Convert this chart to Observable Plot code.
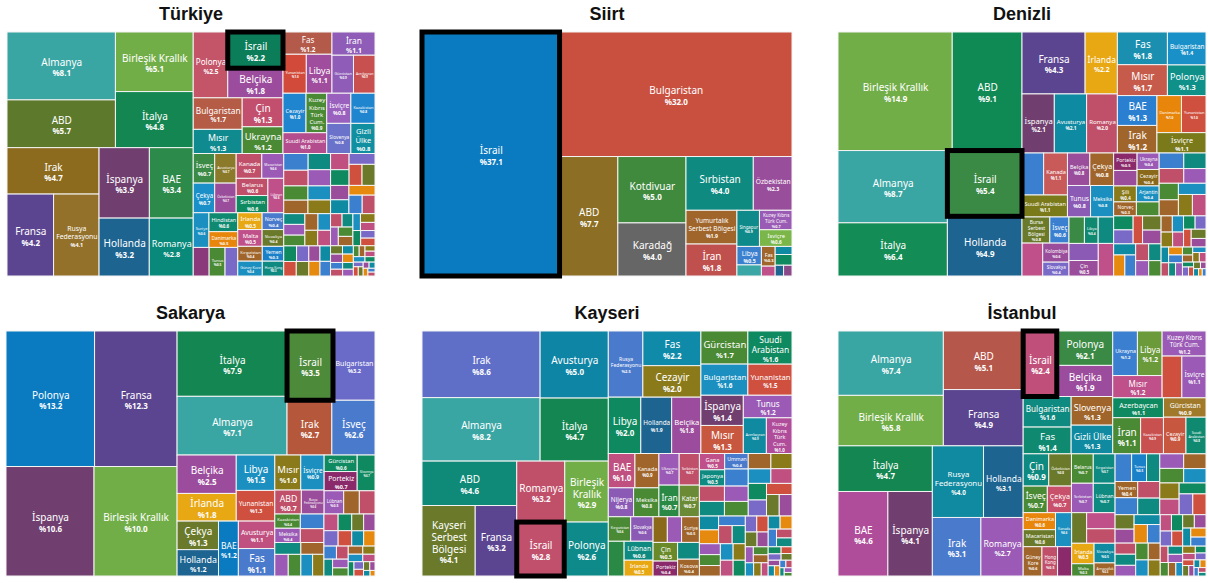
<!DOCTYPE html>
<html><head><meta charset="utf-8">
<script src="https://cdn.jsdelivr.net/npm/d3@7"></script>
<script src="https://cdn.jsdelivr.net/npm/@observablehq/plot@0.6"></script>
<style>
body{margin:0;background:#fff;width:1208px;height:583px;position:relative;overflow:hidden;font-family:"Noto Sans",sans-serif}
.panel{position:absolute}
.title{position:absolute;text-align:center;font:bold 18px "Liberation Sans",Arial,sans-serif;color:#111;line-height:22px}
</style></head><body>
<script>
// ---------------- DATA ----------------
const turkiyeNames = ["Almanya","ABD","Birleşik Krallık","İtalya","Irak","Fransa","Rusya Federasyonu","İspanya","BAE","Hollanda","Romanya","Polonya","İsrail","Belçika","Bulgaristan","Mısır","Çin","Ukrayna","Fas","Yunanistan","Libya","İran","Gürcistan","Azerbaycan","Cezayir","Kuzey Kıbrıs Türk Cum.","Suudi Arabistan","İsviçre","Kazakistan","Slovenya","Gizli Ülke","İsveç","Avusturya","Çekya","Özbekistan","Kanada","Macaristan","Belarus","Sırbistan","Lübnan","Suriye","Hindistan","Danimarka","","Tunus","","İrlanda","Malta","Norveç","Slovakya","Kırgızistan","Güney Kore","Yemen","Hong Kong"];
const turkiyeValues = [8.1,5.7,5.1,4.8,4.7,4.2,4.1,3.9,3.4,3.2,2.8,2.5,2.2,1.8,1.7,1.3,1.3,1.2,1.2,1.0,1.1,1.1,0.9,0.9,1.0,0.9,1.0,0.8,0.8,0.8,0.8,0.7,0.7,0.7,0.7,0.7,0.6,0.6,0.6,0.6,0.6,0.6,0.5,0.5,0.5,0.4,0.45,0.45,0.4,0.4,0.4,0.4,0.35,0.35];
const turkiyeColors = ["#3aa6a4","#5d7a2c","#72ae48","#138651","#8c6b1e","#5c4590","#94712a","#703f6f","#2c8a4b","#1e6491","#08897a","#c45468","#0b7d58","#9c4c9c","#b45c45","#0f8a8f","#c24f6e","#4b8a35","#b45a4a","#d24a3a","#a04d9e","#8f5db7","#8f5db7","#c8504f","#1f85cf","#4b8a35","#b34d8e","#9960bd","#1f85cf","#6a72c9","#0f8fa0","#3b8a45","#8a7a2a","#1a8fc8","#9a4d9a","#c0506a","#9a5ab5","#c0506a","#0f8a60","#c0508a","#1a8fc0","#0f8a70","#e8860c","#8a3a7a","#4a8a35","#7a6ac8","#e8a813","#c0508a","#4a7acc","#6a7a2a","#a0652a","#1a8fc0","#1a80c8","#0f8a80"];
const turkiyeTiny = [0.45,0.42,0.4,0.4,0.38,0.36,0.35,0.34,0.33,0.32,0.31,0.3,0.3,0.29,0.28,0.28,0.27,0.26,0.25,0.25,0.25,0.24,0.23,0.22,0.22,0.22,0.21,0.2,0.2,0.19,0.18,0.18,0.17,0.17,0.16,0.16,0.15,0.15,0.14,0.14,0.13,0.13,0.12,0.12,0.11,0.11,0.1,0.1,0.09,0.09,0.08,0.08,0.07,0.07,0.07,0.06,0.06,0.06,0.05,0.05,0.05,0.04,0.04,0.04,0.03,0.03];

const siirtNames = ["İsrail","Bulgaristan","ABD","Kotdivuar","Karadağ","Sırbistan","Özbekistan","Yumurtalık Serbest Bölgesi","İran","Singapur","Kuzey Kıbrıs Türk Cum.","İsviçre","Libya","","Fas","","","","",""];
const siirtValues = [37.1,32.0,7.7,5.0,4.0,4.0,2.3,1.9,1.8,0.9,0.7,0.6,0.5,0.3,0.3,0.15,0.15,0.2,0.1,0.1];
const siirtColors = ["#0a7bc1","#c9503f","#8c6f24","#3f8a3c","#666666","#0f8a80","#984e9a","#a0652a","#c0504d","#0f8a8a","#9a5bb5","#7ab648","#3b80cf","#3aa6a5","#a0652a","#c0508a","#0f8aa3","#0f8a60","#1f6591","#8a4a8a"];
const siirtTiny = [];

const denizliNames = ["Birleşik Krallık","ABD","Almanya","İtalya","İsrail","Hollanda","Fransa","İrlanda","İspanya","Avusturya","Romanya","Fas","Mısır","Bulgaristan","Polonya","BAE","Irak","Danimarka","Yunanistan","İsviçre","Rusya Federasyonu","Kanada","Suudi Arabistan","Belçika","Çekya","Tunus","Meksika","Bursa Serbest Bölgesi","İsveç","","Kolombiya","Slovakya","","Libya","","","Çin","","Portekiz","","Ukrayna","Cezayir","Şili","Norveç","Arjantin",""];
const denizliValues = [14.9,9.1,8.7,6.4,5.4,4.9,4.3,2.2,2.1,2.1,2.0,1.8,1.7,1.4,1.3,1.3,1.2,1.0,1.0,1.1,1.0,1.1,1.1,0.8,0.85,0.8,0.8,0.8,0.55,0.75,0.55,0.4,0.45,0.4,0.45,0.55,0.5,0.55,0.45,0.4,0.4,0.4,0.4,0.35,0.4,0.35];
const denizliColors = ["#72ae48","#0f8a55","#3aa6a4","#148c55","#3a8a45","#1e6491","#5c4590","#e8a813","#703f6f","#0f8aa3","#c0506a","#1a8fb0","#c65b4b","#1a90c8","#0f9088","#2a7fd0","#a0652a","#e8860c","#d0503f","#7a7a1a","#3b7fd0","#c85a5a","#7a7a1a","#9a4d9a","#a0652a","#8a5ab5","#1a8fc0","#6a7a2a","#3b7fd0","#c0508a","#9a4d9a","#7a6ac8","#3a8a45","#0f8a70","#0f8a80","#8a5ab5","#9a4d9a","#c0508a","#8a2a6a","#9a4d9a","#9a5ab5","#8a6a1a","#8a7a1a","#a0652a","#1a8fc0","#4a8a35"];
const denizliTiny = [0.42,0.4,0.38,0.36,0.35,0.34,0.34,0.33,0.32,0.3,0.3,0.29,0.29,0.28,0.27,0.26,0.25,0.24,0.23,0.22,0.21,0.2,0.2,0.19,0.18,0.17,0.16,0.15,0.15,0.14,0.13,0.12,0.12,0.11,0.1,0.1,0.09,0.08,0.08,0.07,0.07,0.06,0.06,0.05,0.05,0.04,0.04,0.03,0.03];

const sakaryaNames = ["Polonya","Fransa","İspanya","Birleşik Krallık","İtalya","Almanya","İsrail","Bulgaristan","Irak","İsveç","Belçika","İrlanda","Libya","Yunanistan","Çekya","Hollanda","BAE","Avusturya","Fas","Mısır","İsviçre","ABD","Rusya Federasyonu","Gürcistan","Portekiz","Slovenya","Lübnan","","","Kazakistan","Meksika"];
const sakaryaValues = [13.2,12.3,10.6,10.0,7.9,7.1,3.5,3.2,2.7,2.6,2.5,1.8,1.5,1.3,1.3,1.2,1.2,1.1,1.1,1.0,0.9,0.7,0.6,0.6,0.7,0.7,0.5,0.4,0.4,0.4,0.4];
const sakaryaColors = ["#0a7bc1","#5c4590","#703f6f","#72ae48","#138651","#3aa6a4","#4d8a3a","#6a6ac8","#b5573a","#4a7acc","#9c4c9c","#e8a813","#1a8fc0","#d0503f","#6a7a2a","#1e6491","#0a7bc1","#c05080","#4a7acc","#8a7a1a","#1a8fc0","#c0506a","#9a4d9a","#0f8a60","#8a2a6a","#0f8a60","#9a5ab5","#a0652a","#c0506a","#4a8a35","#9a5ab5"];
const sakaryaTiny = [0.38,0.36,0.34,0.32,0.3,0.3,0.28,0.27,0.26,0.25,0.24,0.23,0.22,0.21,0.2,0.19,0.18,0.17,0.16,0.15,0.14,0.13,0.12,0.11,0.1,0.09,0.08,0.07,0.06,0.05,0.04,0.03];

const kayseriNames = ["Irak","Almanya","Avusturya","İtalya","ABD","Kayseri Serbest Bölgesi","Fransa","Romanya","Birleşik Krallık","İsrail","Polonya","Rusya Federasyonu","Fas","Cezayir","Libya","Hollanda","Belçika","Gürcistan","Bulgaristan","Suudi Arabistan","Yunanistan","İspanya","Mısır","Tunus","Azerbaycan","Kuzey Kıbrıs Türk Cum.","BAE","Kanada","Nijerya","Meksika","Ukrayna","Sırbistan","İran","Katar","Kırgızistan","Slovakya","","Lübnan","İrlanda","","","Suriye","Çin","Portekiz","","Kosova","Gana","Japonya","Umman"];
const kayseriValues = [8.6,8.2,5.0,4.7,4.6,4.1,3.2,3.2,2.9,2.8,2.6,2.5,2.2,2.0,2.0,1.9,1.8,1.7,1.6,1.6,1.5,1.4,1.3,1.2,0.9,1.0,1.0,0.9,0.8,0.8,0.7,0.7,0.7,0.7,0.6,0.6,0.6,0.6,0.5,0.4,0.4,0.5,0.5,0.4,0.4,0.4,0.45,0.45,0.4];
const kayseriColors = ["#5f6fc8","#3aa6a4","#0f85a5","#138651","#0f8a78","#6a7a2a","#5c4590","#c0506a","#72ae48","#c0506c","#0f8a8a","#4a7acc","#0f8aa8","#8a7a1a","#0f8a60","#1e6491","#9c4c9c","#4a8a35","#1a8fc0","#0f8a60","#d0503f","#703f6f","#c8573f","#9a5ab5","#0f8aa0","#b04d9a","#c05080","#a0652a","#8a5ab5","#4a8a35","#9a5ab5","#c0506a","#2a8a45","#6a8a35","#4a8a35","#8a5ab5","#2a8a45","#0f8a80","#e8a813","#8a6a1a","#9a5ab5","#a0652a","#6a8a2a","#8a2a6a","#0f8a80","#a0652a","#c0508a","#0f8a80","#4a7acc"];
const kayseriTiny = [0.44,0.42,0.4,0.4,0.38,0.38,0.36,0.35,0.34,0.33,0.32,0.31,0.3,0.3,0.29,0.29,0.28,0.27,0.26,0.25,0.25,0.24,0.23,0.22,0.22,0.21,0.2,0.2,0.19,0.18,0.17,0.17,0.16,0.15,0.15,0.14,0.13,0.13,0.12,0.11,0.1,0.1,0.09,0.08,0.08,0.07,0.07,0.06,0.05,0.05,0.04,0.04,0.03];

const istanbulNames = ["Almanya","Birleşik Krallık","ABD","Fransa","İtalya","BAE","İspanya","Rusya Federasyonu","Hollanda","Irak","Romanya","İsrail","Polonya","Belçika","Bulgaristan","Fas","Slovenya","Gizli Ülke","Ukrayna","Libya","Mısır","Kuzey Kıbrıs Türk Cum.","","İsviçre","Azerbaycan","İran","Kazakistan","Gürcistan","Cezayir","Suudi Arabistan","Çin","Özbekistan","İsveç","Çekya","Belarus","Kırgızistan","Sırbistan","Lübnan","Danimarka","Macaristan","Kanada","Güney Kore","Hong Kong","Portekiz","","","","İrlanda","Malta","Slovakya","Arnavutluk","Türkmenistan","Tunus","Brezilya","Yemen"];
const istanbulValues = [7.4,5.8,5.1,4.9,4.7,4.6,4.1,4.0,3.1,3.1,2.7,2.4,2.1,1.9,1.6,1.4,1.3,1.3,1.2,1.2,1.2,1.2,0.9,1.1,1.1,1.1,0.9,0.9,0.9,0.8,0.9,0.8,0.7,0.7,0.7,0.7,0.7,0.7,0.6,0.6,0.6,0.6,0.5,0.45,0.5,0.5,0.45,0.5,0.3,0.45,0.3,0.5,0.45,0.4,0.4];
const istanbulColors = ["#3aa6a4","#72ae48","#b5574a","#5c4590","#138651","#b04d9a","#703f6f","#0f8aa0","#1e6491","#4a7acc","#9a5ab5","#c0507a","#3a8a45","#9c4c9c","#0f8a80","#0f8a70","#a0652a","#0f8aa0","#3b7fd0","#6a9a3a","#c0508a","#9a5ab5","#d0503f","#9a5ab5","#0f8a60","#4a8a35","#c8504f","#a07a2a","#c8573f","#0f8a70","#0f8a80","#6a7a2a","#4a8a35","#c8506a","#4a8a35","#0f8a80","#9a5ab5","#0f8a80","#e8860c","#6a7a2a","#1a8fc0","#a0652a","#c0506a","#8a2a6a","#6a7a2a","#c0508a","#c0506a","#e8a813","#4a8a35","#0f8aa0","#a0652a","#3b80cf","#1a80c8","#0f8a80","#a0652a"];
const istanbulTiny = [0.42,0.4,0.4,0.38,0.38,0.36,0.35,0.34,0.33,0.32,0.31,0.3,0.3,0.29,0.28,0.27,0.26,0.25,0.25,0.24,0.23,0.22,0.22,0.21,0.2,0.2,0.19,0.18,0.17,0.17,0.16,0.15,0.15,0.14,0.13,0.13,0.12,0.11,0.1,0.1,0.09,0.08,0.08,0.07,0.07,0.06,0.05,0.05,0.04,0.04,0.03];

const tinyPalette = ["#3b80cf","#c0506a","#0f8a80","#9a5ab5","#4a8a35","#a0652a","#1a8fc0","#8a7a1a","#c05080","#0f8a60","#7a6ac8","#d0503f","#6a7a2a","#9a4d9a","#0f8aa3","#e68a0f"];

// ---------------- RENDER ----------------
const FONT = '"Noto Sans", "Open Sans", sans-serif';
const ctx = document.createElement("canvas").getContext("2d");
function textWidth(s, size, bold){ ctx.font = (bold ? "bold " : "") + size + "px " + FONT; return ctx.measureText(s).width; }
function lineOptions(name){
  const words = name.split(" ");
  const opts = [[name]];
  for (let i = 1; i < words.length; i++) opts.push([words.slice(0,i).join(" "), words.slice(i).join(" ")]);
  if (words.length > 2) for (let i = 1; i < words.length - 1; i++) for (let j = i + 1; j < words.length; j++)
    opts.push([words.slice(0,i).join(" "), words.slice(i,j).join(" "), words.slice(j).join(" ")]);
  if (words.length > 3) opts.push(words);
  return opts;
}
const VR = 0.8, LH = 1.2, MAXF = 10, GAP = 1.34;
function makeLabel(c){
  const w = c.x1 - c.x0, h = c.y1 - c.y0;
  const val = "%" + c.value.toFixed(1);
  let best = null;
  for (const lines of lineOptions(c.name)) {
    const n = lines.length;
    const nw = Math.max(...lines.map(l => textWidth(l, 10, false))) / 10;
    const vw = textWidth(val, 10, true) / 10 * VR;
    const fsW = (w - 4) / Math.max(nw, vw);
    // full text box height: 0.36 above first cap top, value box bottom
    const fsH = (h - 2) / (0.36 + (n - 1) * LH + GAP + VR * 1.02);
    const fs = Math.min(MAXF, fsW, fsH);
    if (!best || fs > best.fs * 1.15) best = {lines, fs};
  }
  if (best.fs < 3) return null;
  const fs = best.fs, vfs = fs * VR, n = best.lines.length;
  const off = (n - 1) * fs * LH + GAP * fs;
  const glyphH = off + vfs * 0.72;
  const top = (c.y0 + c.y1) / 2 - glyphH / 2 + 0.05 * fs;
  return {cx: (c.x0 + c.x1) / 2, ny: top, vy: top + off, label: best.lines.join("\n"), val, fs, vfs};
}
function panel(title, names, values, colors, tiny, left, top, width, height){
  const items = names.map((n, i) => ({name: n, value: values[i], color: colors[i]}))
    .concat(tiny.map((v, i) => ({name: "", value: v, color: tinyPalette[i % tinyPalette.length]})));
  const root = d3.hierarchy({children: items}).sum(d => d.value || 0);
  d3.treemap().tile(d3.treemapBinary).size([width, height])(root);
  const cells = root.leaves().map(l => ({...l.data, x0: l.x0, x1: l.x1, y0: l.y0, y1: l.y1}));
  const labels = cells.filter(c => c.name).map(makeLabel).filter(Boolean);
  const hl = cells.filter(c => c.name === "İsrail");
  const svg = Plot.plot({
    width, height, margin: 0,
    x: {domain: [0, width], range: [0, width], axis: null},
    y: {domain: [0, height], range: [0, height], axis: null},
    color: {type: "identity"},
    style: {overflow: "visible", background: "transparent"},
    marks: [
      Plot.rect(cells, {x1: "x0", x2: "x1", y1: "y0", y2: "y1", fill: "color", stroke: "#f4f4f4", strokeWidth: 1}),
      Plot.text(labels, {x: "cx", y: "ny", text: "label", fontSize: d => d.fs, fill: "white", lineAnchor: "top", lineHeight: LH, fontFamily: FONT}),
      Plot.text(labels, {x: "cx", y: "vy", text: "val", fontSize: d => d.vfs, fontWeight: "bold", fill: "white", lineAnchor: "top", fontFamily: FONT}),
      Plot.rect(hl, {x1: "x0", x2: "x1", y1: "y0", y2: "y1", fill: "none", stroke: "#000", strokeWidth: 5})
    ]
  });
  const div = document.createElement("div");
  div.className = "panel";
  div.style.left = left + "px"; div.style.top = top + "px";
  div.appendChild(svg);
  document.body.appendChild(div);
  const t = document.createElement("div");
  t.className = "title";
  t.textContent = title;
  t.style.left = left + "px"; t.style.width = width + "px"; t.style.top = (top - 29) + "px";
  document.body.appendChild(t);
}
panel("Türkiye", turkiyeNames, turkiyeValues, turkiyeColors, turkiyeTiny, 7, 32, 368, 244);
panel("Siirt", siirtNames, siirtValues, siirtColors, siirtTiny, 422, 32, 370, 244);
panel("Denizli", denizliNames, denizliValues, denizliColors, denizliTiny, 838, 32, 368, 244);
panel("Sakarya", sakaryaNames, sakaryaValues, sakaryaColors, sakaryaTiny, 6, 331, 369, 245);
panel("Kayseri", kayseriNames, kayseriValues, kayseriColors, kayseriTiny, 422, 331, 370, 245);
panel("İstanbul", istanbulNames, istanbulValues, istanbulColors, istanbulTiny, 838, 331, 368, 245);
</script>
</body></html>
